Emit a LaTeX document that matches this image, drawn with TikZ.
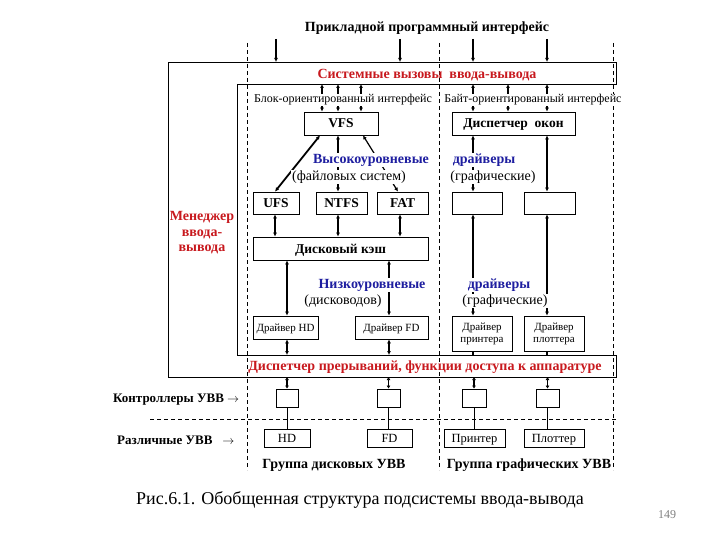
\documentclass[tikz,border=0pt]{standalone}
\usepackage{fontspec}
\setmainfont{Liberation Serif}
\usetikzlibrary{arrows.meta}
\newcommand\fsz[1]{\fontsize{#1}{#1}\selectfont}
\definecolor{myred}{RGB}{200,25,30}
\definecolor{myblue}{RGB}{30,30,160}
\begin{document}
\begin{tikzpicture}[x=1pt,y=-1pt,
  >={Latex[length=4pt,width=4pt]},
  box/.style={draw, line width=0.8pt, inner sep=0pt, font=\fsz{11}, text depth=0pt},
  box2/.style={draw, line width=0.8pt, inner sep=0pt, font=\fsz{11}},
  dev/.style={box, font=\fsz{12.5}},
  bbox/.style={box, font=\fsz{13.5}\bfseries},
  dbl/.style={<->, line width=1.2pt},
  dblthick/.style={<->, line width=1.8pt},
  conn/.style={line width=0.8pt},
  dsh/.style={dashed, line width=0.7pt, dash pattern=on 4pt off 3pt},
  lbl/.style={fill=white, inner sep=1pt, font=\fsz{12}},
  par/.style={fill=white, inner sep=1pt, font=\fsz{14}},
  blue/.style={fill=white, inner sep=1pt, font=\fsz{14}\bfseries, text=myblue},
  redt/.style={inner sep=1pt, font=\fsz{14}\bfseries, text=myred},
  plain/.style={inner sep=1pt, font=\fsz{14}\bfseries}]
\useasboundingbox (0,0) rectangle (720,540);
\fill[white] (0,0) rectangle (720,540);

% dashed verticals
\coordinate (d1t) at (247,43); \coordinate (d1b) at (247,470);
\coordinate (d2t) at (439,43); \coordinate (d2b) at (439,470);
\coordinate (d3t) at (613,43); \coordinate (d3b) at (613,470);
\draw[dsh] (d1t) -- (d1b);
\draw[dsh] (d2t) -- (d2b);
\draw[dsh] (d3t) -- (d3b);
\coordinate (hl) at (150,419); \coordinate (hr) at (617,419);
\draw[dsh] (hl) -- (hr);

% frame
\draw[line width=0.8pt] (168,62) -- (616,62) -- (616,84) -- (237,84) -- (237,355)
  -- (616,355) -- (616,377) -- (168,377) -- cycle;
\coordinate (band) at (400,62);
\coordinate (bandb) at (400,84);
\coordinate (intt) at (400,355);
\coordinate (intb) at (400,377);

% title and top arrows
\node[plain] (api) at (427,28) {Прикладной программный интерфейс};
\foreach \x/\n in {276/a1,400/a2,473/a3,547/a4}{
  \coordinate (\n) at (\x,39);
  \draw[->, line width=1.2pt] (\n) -- (\n |- band);
}
\node[redt] (sys) at (427,75) {Системные вызовы\ \ ввода-вывода};

% boxes level 1
\node[bbox, minimum width=74, minimum height=23] (vfs) at (341,123.5) {VFS};
\node[bbox, minimum width=123, minimum height=23] (disp) at (513.5,123.5) {Диспетчер\ \ окон};

\foreach \x in {322,338,361}{
  \draw[dbl] (\x,0 |- bandb) -- (\x,0 |- vfs.north);
}
\foreach \x in {473,508,547}{
  \draw[dbl] (\x,0 |- bandb) -- (\x,0 |- disp.north);
}
\node[lbl] (blk) at (343,100) {Блок-ориентированный интерфейс};
\node[lbl] (byt) at (533,100) {Байт-ориентированный интерфейс};

% level 2 boxes
\node[bbox, minimum width=46, minimum height=22] (ufs) at (276,203) {UFS};
\node[bbox, minimum width=51, minimum height=22] (ntfs) at (341.5,203) {NTFS};
\node[bbox, minimum width=51, minimum height=22] (fat) at (402.5,203) {FAT};
\node[box, minimum width=50, minimum height=22] (e1) at (477,203) {};
\node[box, minimum width=51, minimum height=22] (e2) at (549.5,203) {};

\draw[dblthick] (320,0 |- vfs.south) -- (275,0 |- ufs.north);
\draw[dbl] (338,0 |- vfs.south) -- (338,0 |- ntfs.north);
\draw[dbl] (363,0 |- vfs.south) -- (398,0 |- fat.north);
\draw[dbl] (473,0 |- disp.south) -- (473,0 |- e1.north);
\draw[dbl] (547,0 |- disp.south) -- (547,0 |- e2.north);

\node[blue] (hi) at (371,160) {Высокоуровневые};
\node[par] (fs) at (349,177) {(файловых систем)};
\node[blue] (dr1) at (484,160) {драйверы};
\node[par] (gr1) at (493,177) {(графические)};

% disk cache
\node[bbox, minimum width=175, minimum height=23] (cache) at (340.5,248.5) {Дисковый кэш};
\draw[dbl] (275,0 |- ufs.south) -- (275,0 |- cache.north);
\draw[dbl] (338,0 |- ntfs.south) -- (338,0 |- cache.north);
\draw[dbl] (400,0 |- fat.south) -- (400,0 |- cache.north);

% drivers
\node[box, minimum width=65, minimum height=23] (dhd) at (285.5,327.5) {Драйвер HD};
\node[box, minimum width=73, minimum height=23] (dfd) at (391.5,327.5) {Драйвер FD};
\node[box2, minimum width=60, minimum height=35, align=center] (dpr) at (482,333.5) {Драйвер\\[1pt]принтера};
\node[box2, minimum width=60, minimum height=35, align=center] (dpl) at (554,333.5) {Драйвер\\[1pt]плоттера};

\draw[dbl] (287,0 |- cache.south) -- (287,0 |- dhd.north);
\draw[dbl] (389,0 |- cache.south) -- (389,0 |- dfd.north);
\draw[dblthick] (473,0 |- e1.south) -- (473,0 |- dpr.north);
\draw[dbl] (547,0 |- e2.south) -- (547,0 |- dpl.north);

\node[blue] (lo) at (372,285) {Низкоуровневые};
\node[par] (dk) at (343,301) {(дисководов)};
\node[blue] (dr2) at (499,285) {драйверы};
\node[par] (gr2) at (505,301) {(графические)};

\draw[dbl] (287,0 |- dhd.south) -- (287,0 |- intt);
\draw[dbl] (389,0 |- dfd.south) -- (389,0 |- intt);
\draw[line width=1.6pt] (473,0 |- dpr.south) -- (473,0 |- intt);
\draw[line width=1.6pt] (547,0 |- dpl.south) -- (547,0 |- intt);

\node[redt] (intr) at (425,367) {Диспетчер прерываний, функции доступа к аппаратуре};

% controllers
\node[box, minimum width=22, minimum height=18] (c1) at (287,398) {};
\node[box, minimum width=23, minimum height=18] (c2) at (388.5,398) {};
\node[box, minimum width=24, minimum height=18] (c3) at (474,398) {};
\node[box, minimum width=23, minimum height=18] (c4) at (547.5,398) {};
\foreach \n in {c1,c2,c3,c4}{
  \draw[dbl, >={Latex[length=3pt,width=4pt]}] (\n.north |- intb) -- (\n.north);
}

% devices
\node[dev, minimum width=46, minimum height=18] (hd) at (287,438) {HD};
\node[dev, minimum width=45, minimum height=18] (fd) at (389.5,438) {FD};
\node[dev, minimum width=61, minimum height=18] (pr) at (474.5,438) {Принтер};
\node[dev, minimum width=60, minimum height=18] (pl) at (554,438) {Плоттер};
\draw[conn] (c1.south) -- (c1.south |- hd.north);
\draw[conn] (c2.south) -- (c2.south |- fd.north);
\draw[conn] (c3.south) -- (c3.south |- pr.north);
\draw[conn] (c4.south) -- (c4.south |- pl.north);

\node[plain, font=\fsz{13}\bfseries, anchor=west] (ctl) at (112,400) {Контроллеры УВВ $\rightarrow$};
\node[plain, font=\fsz{13}\bfseries, anchor=west] (var) at (116,440) {Различные УВВ\ \ \ $\rightarrow$};

\node[plain] (g1) at (334,465) {Группа дисковых УВВ};
\node[plain] (g2) at (529,465) {Группа графических УВВ};

\node[inner sep=0pt, font=\fsz{18}] (cap) at (360,500) {Рис.6.1. Обобщенная структура подсистемы ввода-вывода};
\node[inner sep=0pt, font=\fsz{12}, text=gray] (pg) at (667,515) {149};

\node[redt, align=center] (mgr) at (202,233) {Менеджер\\[1.5pt]ввода-\\[1.5pt]вывода};
\end{tikzpicture}
\end{document}
